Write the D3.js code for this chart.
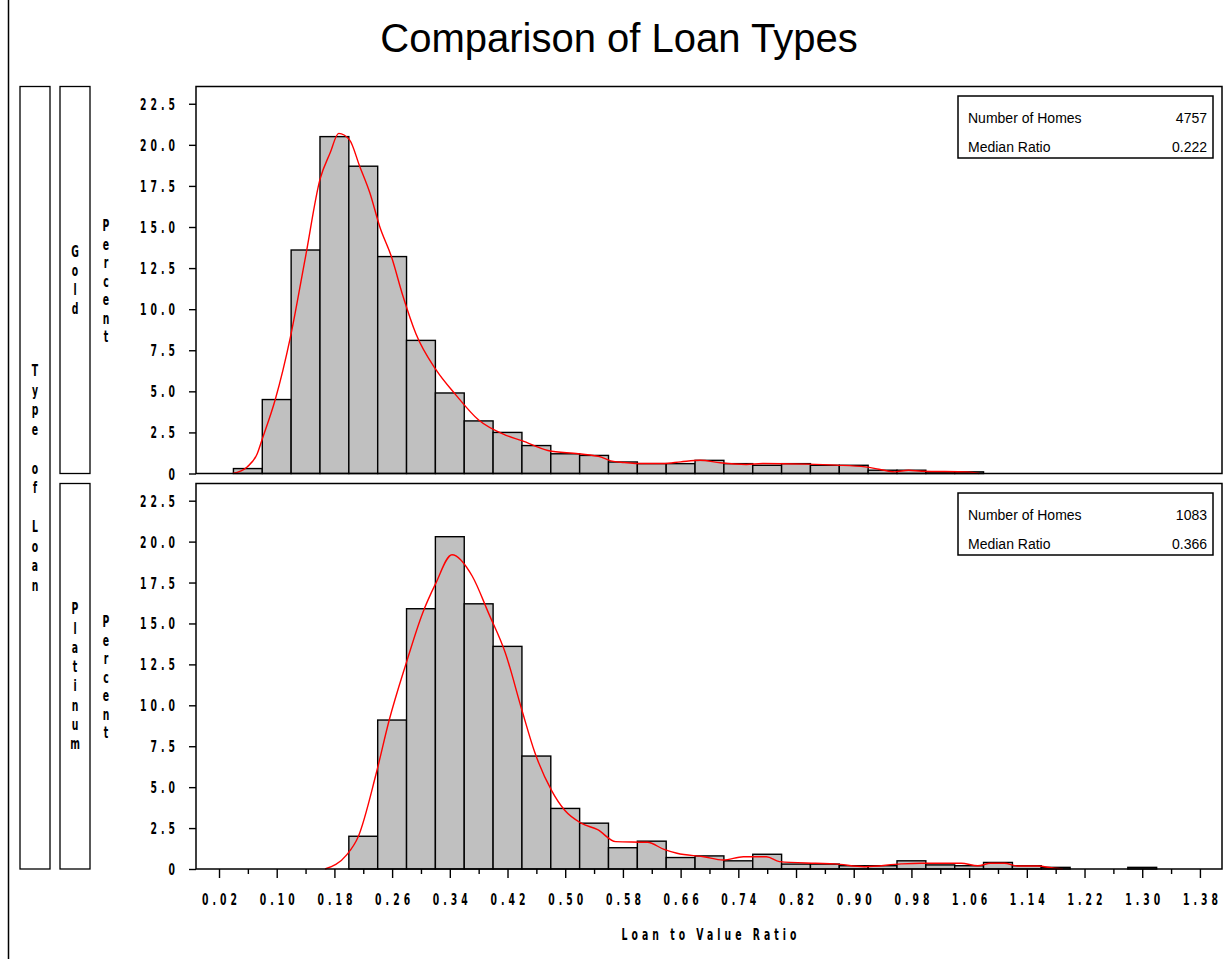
<!DOCTYPE html>
<html>
<head>
<meta charset="utf-8">
<script src="https://cdn.jsdelivr.net/npm/d3@7"></script>
<style>
  body { margin: 0; background: #fff; }
  svg { display: block; }
</style>
</head>
<body>
<svg id="chart"></svg>
<script>
// bin midpoints (bin width 0.04) shared by both histograms
var binMids = [0.02, 0.06, 0.10, 0.14, 0.18, 0.22, 0.26, 0.30, 0.34, 0.38, 0.42, 0.46,
    0.50, 0.54, 0.58, 0.62, 0.66, 0.70, 0.74, 0.78, 0.82, 0.86, 0.90, 0.94, 0.98, 1.02,
    1.06, 1.10, 1.14, 1.18, 1.22, 1.26, 1.30, 1.34, 1.38];

var goldPct = [0, 0.3, 4.5, 13.6, 20.5, 18.7, 13.2, 8.1, 4.9, 3.2, 2.5, 1.7,
    1.2, 1.1, 0.7, 0.6, 0.6, 0.8, 0.6, 0.5, 0.6, 0.5, 0.5, 0.2, 0.2, 0.1,
    0.1, 0, 0, 0, 0, 0, 0, 0, 0];

var platPct = [0, 0, 0, 0, 0, 2.0, 9.1, 15.9, 20.3, 16.2, 13.6, 6.9,
    3.7, 2.8, 1.3, 1.7, 0.7, 0.8, 0.5, 0.9, 0.3, 0.3, 0.2, 0.2, 0.5, 0.25,
    0.2, 0.4, 0.2, 0.1, 0, 0, 0.1, 0, 0];

// kernel density curves
var goldCurveX = [0.039, 0.059, 0.073, 0.080, 0.098, 0.119, 0.140, 0.160, 0.174, 0.186,
    0.201, 0.215, 0.229, 0.243, 0.259, 0.275, 0.293, 0.321, 0.348, 0.380,
    0.417, 0.440, 0.476, 0.518, 0.550, 0.563, 0.582, 0.600, 0.637, 0.660,
    0.687, 0.715, 0.751, 0.774, 0.834, 0.875, 0.916, 0.935, 0.957, 0.976,
    0.994, 1.058, 1.074];
var goldCurveY = [0.0, 0.4, 1.2, 2.1, 4.5, 8.3, 13.2, 17.9, 19.5, 20.7,
    20.3, 18.7, 17.1, 15.0, 13.2, 10.8, 8.5, 6.3, 4.8, 3.25,
    2.34, 2.0, 1.4, 1.2, 1.0, 0.77, 0.67, 0.61, 0.61, 0.71,
    0.81, 0.65, 0.55, 0.61, 0.57, 0.51, 0.40, 0.26, 0.1, 0.2,
    0.14, 0.1, 0.0];

var platCurveX = [0.167, 0.197, 0.213, 0.238, 0.256, 0.279, 0.302, 0.320, 0.343, 0.371,
    0.394, 0.417, 0.440, 0.458, 0.481, 0.499, 0.522, 0.545, 0.570, 0.614,
    0.637, 0.655, 0.692, 0.719, 0.747, 0.779, 0.797, 0.847, 0.874, 0.915,
    0.966, 0.994, 1.049, 1.072, 1.090, 1.109, 1.127, 1.155, 1.178, 1.19];
var platCurveY = [0.0, 0.86, 1.97, 5.85, 9.1, 12.5, 15.6, 17.4, 19.2, 17.9,
    15.6, 13.2, 9.7, 7.1, 4.8, 3.6, 2.8, 2.4, 1.67, 1.63,
    1.2, 0.96, 0.75, 0.55, 0.75, 0.75, 0.45, 0.35, 0.31, 0.14,
    0.31, 0.35, 0.35, 0.2, 0.35, 0.35, 0.18, 0.18, 0.05, 0.0];

var loanTypes = ['Gold', 'Platinum'];
var statLabels = ['Number of Homes', 'Median Ratio'];
var goldStats = ['4757', '0.222'];
var platStats = ['1083', '0.366'];

var yTicks = [0, 2.5, 5, 7.5, 10, 12.5, 15, 17.5, 20, 22.5];
var xTickLabels = ['0.02', '0.10', '0.18', '0.26', '0.34', '0.42', '0.50', '0.58', '0.66',
    '0.74', '0.82', '0.90', '0.98', '1.06', '1.14', '1.22', '1.30', '1.38'];
var xMinorTicks = [0.06, 0.14, 0.22, 0.30, 0.38, 0.46, 0.54, 0.62, 0.70, 0.78, 0.86,
    0.94, 1.02, 1.10, 1.18, 1.26, 1.34];

var svgWidth = 1228, svgHeight = 959;
var binWidth = 0.04;
var narrowFont = "'DejaVu Sans', sans-serif";
var squeeze = 0.62;

var svg = d3.select('#chart')
    .attr('width', svgWidth)
    .attr('height', svgHeight);

svg.append('rect').attr('width', svgWidth).attr('height', svgHeight).attr('fill', '#fff');

// left border of the graph area
svg.append('line')
    .attr('x1', 8.5).attr('x2', 8.5).attr('y1', 0).attr('y2', svgHeight)
    .attr('stroke', '#000').attr('stroke-width', 1.5);

svg.append('text')
    .attr('x', 619).attr('y', 52)
    .attr('text-anchor', 'middle')
    .attr('font-family', "'Liberation Sans', Arial, sans-serif")
    .attr('font-size', 40)
    .text('Comparison of Loan Types');

var x = d3.scaleLinear().domain([-0.0119, 1.4106]).range([196, 1222]);

// narrow, widely spaced text like the SAS device font
function narrowText(g, px, py, str, anchor) {
    return g.append('text')
        .attr('transform', `translate(${px},${py}) scale(${squeeze},1)`)
        .attr('text-anchor', anchor)
        .attr('font-family', narrowFont)
        .attr('font-weight', 'bold')
        .attr('font-size', 15)
        .attr('letter-spacing', 6.5)
        .text(str);
}

// letters stacked one under another
function stackedText(g, cx, cy, str, step) {
    var chars = str.split('');
    var first = cy - (chars.length - 1) * step / 2;
    chars.forEach(function (c, i) {
        if (c === ' ') return;
        g.append('text')
            .attr('transform', `translate(${cx},${first + i * step + 5.5}) scale(${squeeze},1)`)
            .attr('text-anchor', 'middle')
            .attr('font-family', narrowFont)
            .attr('font-weight', 'bold')
            .attr('font-size', 15)
            .text(c);
    });
}

var panels = [
    { name: loanTypes[0], pct: goldPct, cx: goldCurveX, cy: goldCurveY, stats: goldStats, top: 86.5, bottom: 473.5 },
    { name: loanTypes[1], pct: platPct, cx: platCurveX, cy: platCurveY, stats: platStats, top: 483.5, bottom: 869 }
];

// outer class box "Type of Loan"
svg.append('rect')
    .attr('x', 20).attr('y', panels[0].top)
    .attr('width', 30).attr('height', panels[1].bottom - panels[0].top)
    .attr('fill', 'none').attr('stroke', '#000').attr('stroke-width', 1.3);
stackedText(svg, 35, (panels[0].top + panels[1].bottom) / 2, 'Type of Loan', 19.5);

panels.forEach(function (p, k) {
    var y = d3.scaleLinear().domain([0, 23.55]).range([p.bottom, p.top]);
    var g = svg.append('g');
    var mid = (p.top + p.bottom) / 2;

    // class level box
    g.append('rect')
        .attr('x', 60).attr('y', p.top)
        .attr('width', 30).attr('height', p.bottom - p.top)
        .attr('fill', 'none').attr('stroke', '#000').attr('stroke-width', 1.3);
    stackedText(g, 75, mid, p.name, 19.3);
    stackedText(g, 106, mid + 1, 'Percent', 18.5);

    var bins = binMids.map(function (m, i) { return { mid: m, value: p.pct[i] }; })
        .filter(function (d) { return d.value > 0; });

    g.selectAll('rect.bar')
        .data(bins)
        .enter()
        .append('rect')
        .attr('class', 'bar')
        .attr('x', function (d) { return x(d.mid - binWidth / 2); })
        .attr('width', function (d) { return x(d.mid + binWidth / 2) - x(d.mid - binWidth / 2); })
        .attr('y', function (d) { return y(d.value); })
        .attr('height', function (d) { return y(0) - y(d.value); })
        .attr('fill', '#c0c0c0')
        .attr('stroke', '#000')
        .attr('stroke-width', 1.4);

    var curve = p.cx.map(function (v, i) { return { x: v, y: p.cy[i] }; });
    var line = d3.line()
        .x(function (d) { return x(d.x); })
        .y(function (d) { return y(d.y); })
        .curve(d3.curveMonotoneX);

    g.append('path')
        .datum(curve)
        .attr('fill', 'none')
        .attr('stroke', '#ff0000')
        .attr('stroke-width', 1.4)
        .attr('d', line);

    // panel frame
    g.append('rect')
        .attr('x', x.range()[0]).attr('y', p.top)
        .attr('width', x.range()[1] - x.range()[0]).attr('height', p.bottom - p.top)
        .attr('fill', 'none').attr('stroke', '#000').attr('stroke-width', 1.5);

    var yAxis = g.append('g')
        .attr('transform', `translate(${x.range()[0]},0)`)
        .call(d3.axisLeft(y).tickValues(yTicks).tickSize(7).tickSizeOuter(0)
            .tickFormat(function (d) { return d === 0 ? '0' : d.toFixed(1); }));
    yAxis.select('.domain').remove();
    yAxis.selectAll('.tick line').attr('stroke-width', 1.4);
    yAxis.selectAll('.tick text')
        .attr('x', 0).attr('dy', 0)
        .attr('transform', `translate(-17,5.5) scale(${squeeze},1)`)
        .attr('font-family', narrowFont)
        .attr('font-weight', 'bold')
        .attr('font-size', 15)
        .attr('letter-spacing', 6.5);

    // inset statistics box
    var box = g.append('g').attr('transform', `translate(958,${p.top + 9.5})`);
    box.append('rect')
        .attr('width', 255).attr('height', 62)
        .attr('fill', '#fff').attr('stroke', '#000').attr('stroke-width', 1.5);
    statLabels.forEach(function (lab, i) {
        box.append('text')
            .attr('x', 10).attr('y', 27 + i * 29)
            .attr('font-family', "'Liberation Sans', Arial, sans-serif")
            .attr('font-size', 14)
            .text(lab);
        box.append('text')
            .attr('x', 249).attr('y', 27 + i * 29)
            .attr('text-anchor', 'end')
            .attr('font-family', "'Liberation Sans', Arial, sans-serif")
            .attr('font-size', 14)
            .text(p.stats[i]);
    });

    if (k === panels.length - 1) {
        var xMajor = xTickLabels.map(Number);
        var xAxis = g.append('g')
            .attr('transform', `translate(0,${p.bottom})`)
            .call(d3.axisBottom(x).tickValues(xMajor).tickSize(9).tickSizeOuter(0)
                .tickFormat(function (d, i) { return xTickLabels[i]; }));
        xAxis.select('.domain').remove();
        xAxis.selectAll('.tick line').attr('stroke-width', 1.4);
        xAxis.selectAll('.tick text')
            .attr('y', 0).attr('dy', 0)
            .attr('transform', `translate(2,36) scale(${squeeze},1)`)
            .attr('font-family', narrowFont)
            .attr('font-weight', 'bold')
            .attr('font-size', 15)
            .attr('letter-spacing', 6.5);

        var minor = g.append('g')
            .attr('transform', `translate(0,${p.bottom})`)
            .call(d3.axisBottom(x).tickValues(xMinorTicks).tickSize(5).tickSizeOuter(0).tickFormat(''));
        minor.select('.domain').remove();
        minor.selectAll('.tick line').attr('stroke-width', 1.4);

        narrowText(g, (x.range()[0] + x.range()[1]) / 2 + 2, 940, 'Loan to Value Ratio', 'middle');
    }
});
</script>
</body>
</html>
